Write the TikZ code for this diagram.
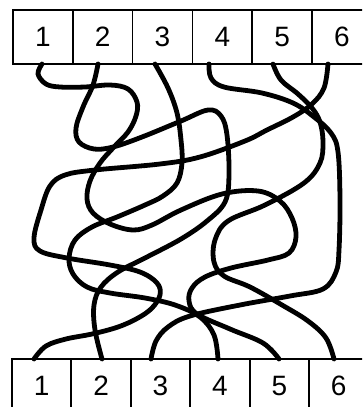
\documentclass[tikz,border=0pt]{standalone}
\usepackage{fontspec}
\setmainfont{Liberation Sans}
\begin{document}
\begin{tikzpicture}[x=1pt,y=-1pt,
  cell/.style={draw=black,line width=1.7pt,minimum width=59.8pt,minimum height=54pt,inner sep=0pt,font=\fontsize{28}{30}\selectfont},
  strand/.style={line width=4.8pt,line cap=round,line join=round}]
\useasboundingbox (0,0) rectangle (362,407);
\clip (0,0) rectangle (362,407);
% top row
\foreach \i in {1,...,6}{
  \node[cell] (t\i) at ({13+59.8*(\i-1)+29.9},37) {\i};
}
% bottom row
\foreach \i in {1,...,6}{
  \node[cell] (b\i) at ({12+59.4*(\i-1)+29.7},386) {\i};
}
% end points
\coordinate (s1) at (42,64);  \coordinate (s2) at (98,64);  \coordinate (s3) at (155,64);
\coordinate (s4) at (209,64); \coordinate (s5) at (273,64); \coordinate (s6) at (328,64);
\coordinate (e1) at (34,359); \coordinate (e2) at (102,359); \coordinate (e3) at (151,359);
\coordinate (e4) at (218,359); \coordinate (e5) at (279,359); \coordinate (e6) at (334,359);
% strand from 1
\draw[strand] plot[smooth,tension=0.6] coordinates {(s1) (38,74) (46,84) (60,87) (85,87) (110,85) (128,89) (137,102) (136,116) (128,132) (113,148) (100,163) (90,181) (87,199) (93,213) (110,224) (133,230) (152,225) (181,210) (222,194) (258,191) (280,201) (292,218) (296,237) (289,253) (268,260) (231,268) (205,277) (192,288) (189,301) (197,314) (230,329) (263,343) (e5)};
% strand from 2
\draw[strand] plot[smooth,tension=0.6] coordinates {(s2) (93,85) (83,107) (76,128) (79,142) (94,149) (113,147) (142,137) (181,121) (208,110) (221,116) (227,135) (229,175) (225,202) (207,221) (181,239) (145,258) (118,272) (101,287) (94,305) (95,330) (e2)};
% strand from 3
\draw[strand] plot[smooth,tension=0.6] coordinates {(s3) (168,88) (177,113) (181,140) (182,163) (177,183) (163,196) (145,205) (117,217) (92,227) (75,240) (69,258) (73,274) (87,287) (110,293) (145,298) (175,305) (200,317) (214,335) (e4)};
% strand from 4
\draw[strand] plot[smooth,tension=0.6] coordinates {(s4) (211,78) (224,87) (262,93) (293,103) (314,117) (331,133) (338,152) (340,200) (339,250) (336,272) (323,289) (290,296) (240,305) (190,316) (168,327) (156,341) (e3)};
% strand from 5
\draw[strand] plot[smooth,tension=0.6] coordinates {(s5) (281,80) (298,94) (312,108) (320,122) (323,142) (320,163) (304,183) (265,205) (228,221) (215,240) (214,262) (224,276) (250,287) (282,305) (308,321) (326,338) (e6)};
% strand from 6
\draw[strand] plot[smooth,tension=0.6] coordinates {(s6) (324,88) (312,104) (293,117) (267,130) (245,141) (200,157) (160,164) (95,170) (65,175) (50,186) (41,210) (34,238) (40,251) (67,258) (110,265) (140,272) (157,283) (160,295) (152,308) (138,318) (118,327) (92,334) (66,339) (46,346) (e1)};
\end{tikzpicture}
\end{document}
